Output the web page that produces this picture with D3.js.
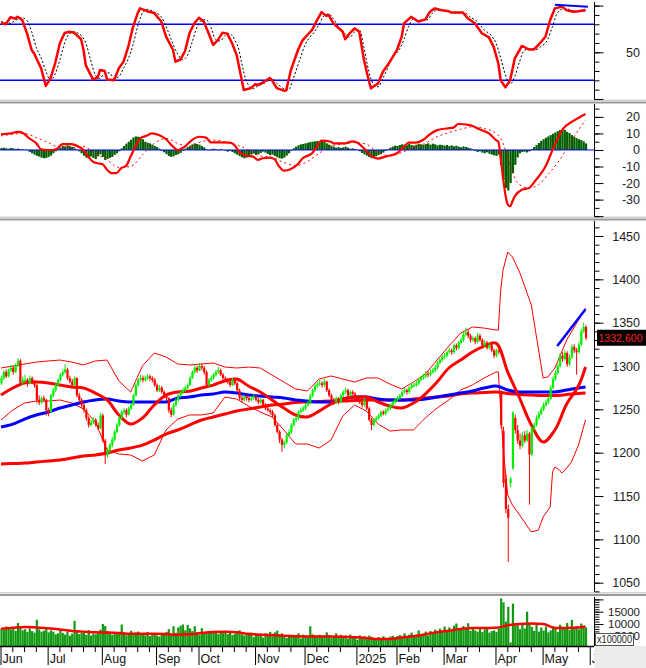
<!DOCTYPE html>
<html><head><meta charset="utf-8">
<script src="https://cdn.jsdelivr.net/npm/d3@7"></script>
<style>body{margin:0;background:#fff}svg{display:block;font-family:"Liberation Sans",Arial,sans-serif}</style>
</head><body><svg id="c" width="646" height="668"></svg>
<script>
// ---------------- DATA ----------------
const monthIdx = [0,20,43,66,84,108,129,151,168,188,210,230,250];
const monthLabels = ["Jun","Jul","Aug","Sep","Oct","Nov","Dec","2025","Feb","Mar","Apr","May","Jun"];

const opens = [1280,1286,1293,1288,1295,1298,1293,1301,1306,1281,1284,1284,1280,1286,1282,1278,1261,1258,1263,1261,
1249,1247,1266,1272,1278,1284,1290,1293,1296,1286,1282,1278,1286,1266,1261,1255,1249,1240,1232,1235,
1238,1232,1228,1243,1214,1197,1203,1209,1215,1224,1232,1240,1247,1249,1244,1251,1255,1266,1278,1284,
1286,1284,1286,1288,1286,1284,1278,1272,1275,1270,1266,1263,1249,1244,1255,1261,1266,1270,1272,1275,
1278,1286,1293,1298,1295,1300,1298,1293,1278,1284,1286,1290,1293,1295,1290,1286,1284,1282,1278,1284,
1280,1272,1263,1261,1265,1263,1261,1263,1265,1261,1258,1261,1255,1251,1249,1247,1243,1232,1224,1215,
1209,1212,1220,1224,1232,1238,1240,1247,1249,1251,1255,1258,1266,1272,1277,1279,1280,1278,1282,1272,
1266,1261,1258,1263,1258,1266,1270,1272,1266,1270,1268,1263,1261,1258,1255,1261,1251,1238,1232,1238,
1240,1243,1247,1245,1249,1251,1255,1258,1261,1263,1266,1270,1272,1270,1275,1278,1278,1280,1284,1286,
1288,1291,1290,1293,1295,1298,1304,1307,1311,1312,1316,1318,1316,1324,1321,1327,1330,1336,1339,1335,
1330,1332,1328,1335,1330,1324,1327,1321,1324,1318,1312,1318,1269,1225,1170,1135,1165,1182,1240,1226,
1214,1208,1220,1214,1222,1198,1228,1232,1240,1245,1250,1255,1258,1262,1275,1285,1292,1300,1312,1308,
1315,1302,1310,1322,1318,1316,1325,1340,1345];
const highs = [1289,1295,1296,1297,1301,1300,1303,1309,1308,1288,1290,1286,1289,1288,1284,1279,1266,1265,1266,1262,
1252,1268,1275,1280,1286,1292,1296,1302,1298,1289,1285,1288,1287,1269,1263,1257,1251,1242,1238,1241,
1240,1235,1246,1245,1216,1206,1211,1218,1226,1234,1242,1249,1252,1251,1253,1257,1268,1280,1286,1290,
1289,1289,1291,1290,1288,1286,1280,1278,1277,1272,1268,1264,1252,1257,1263,1268,1272,1275,1277,1280,
1288,1295,1301,1300,1303,1303,1300,1295,1286,1289,1292,1296,1299,1297,1292,1288,1286,1284,1286,1286,
1282,1274,1266,1267,1267,1265,1265,1268,1266,1263,1263,1262,1257,1253,1251,1249,1245,1234,1226,1217,
1214,1222,1227,1234,1240,1243,1249,1252,1254,1257,1260,1268,1274,1279,1282,1284,1282,1285,1283,1274,
1268,1263,1265,1264,1268,1272,1275,1274,1272,1272,1270,1265,1263,1260,1263,1262,1253,1240,1240,1242,
1245,1249,1249,1251,1253,1257,1260,1263,1265,1268,1272,1275,1274,1277,1280,1281,1283,1286,1289,1291,
1294,1294,1296,1298,1301,1306,1309,1313,1315,1318,1321,1320,1326,1326,1329,1333,1339,1344,1342,1337,
1335,1334,1338,1337,1332,1330,1329,1327,1326,1320,1320,1322,1272,1230,1175,1140,1172,1248,1244,1232,
1222,1224,1225,1226,1224,1230,1235,1243,1248,1253,1258,1261,1265,1278,1288,1295,1303,1315,1316,1318,
1317,1313,1325,1325,1321,1328,1343,1350,1347];
const lows = [1278,1284,1286,1287,1293,1290,1292,1299,1279,1278,1281,1276,1279,1279,1275,1257,1255,1256,1258,1243,
1242,1246,1264,1270,1276,1282,1288,1291,1284,1280,1276,1277,1264,1258,1252,1246,1237,1229,1230,1233,
1230,1226,1227,1212,1187,1194,1200,1206,1213,1222,1230,1238,1244,1241,1243,1249,1254,1265,1276,1282,
1281,1282,1284,1283,1281,1276,1270,1270,1268,1264,1260,1246,1241,1243,1253,1259,1264,1268,1270,1273,
1277,1285,1291,1292,1294,1295,1290,1276,1276,1282,1284,1288,1291,1288,1284,1282,1279,1276,1277,1278,
1270,1261,1258,1259,1260,1258,1259,1261,1259,1256,1256,1253,1249,1247,1244,1241,1230,1222,1211,1201,
1205,1210,1218,1222,1230,1235,1238,1245,1247,1249,1253,1256,1264,1270,1275,1277,1275,1276,1270,1264,
1259,1255,1256,1256,1257,1264,1268,1264,1265,1266,1261,1259,1256,1252,1253,1249,1236,1226,1230,1236,
1238,1241,1243,1243,1247,1249,1253,1256,1259,1261,1264,1268,1267,1268,1273,1275,1276,1278,1282,1284,
1286,1287,1288,1291,1293,1296,1302,1305,1308,1310,1314,1313,1314,1318,1319,1325,1328,1334,1332,1327,
1328,1325,1326,1328,1322,1322,1319,1319,1316,1309,1310,1314,1228,1160,1130,1074,1160,1180,1222,1210,
1204,1206,1211,1212,1140,1196,1225,1230,1238,1243,1248,1253,1256,1261,1273,1283,1290,1298,1305,1306,
1299,1300,1308,1315,1290,1314,1323,1338,1330];
const closes = [1286,1293,1288,1295,1298,1293,1301,1306,1281,1284,1284,1280,1286,1282,1278,1261,1258,1263,1261,1249,
1247,1266,1272,1278,1284,1290,1293,1296,1286,1282,1278,1286,1266,1261,1255,1249,1240,1232,1235,1238,
1232,1228,1243,1214,1197,1203,1209,1215,1224,1232,1240,1247,1249,1244,1251,1255,1266,1278,1284,1286,
1284,1286,1288,1286,1284,1278,1272,1275,1270,1266,1263,1249,1244,1255,1261,1266,1270,1272,1275,1278,
1286,1293,1298,1295,1300,1298,1293,1278,1284,1286,1290,1293,1295,1290,1286,1284,1282,1278,1284,1280,
1272,1263,1261,1265,1263,1261,1263,1265,1261,1258,1261,1255,1251,1249,1247,1243,1232,1224,1215,1209,
1212,1220,1224,1232,1238,1240,1247,1249,1251,1255,1258,1266,1272,1277,1279,1280,1278,1282,1272,1266,
1261,1258,1263,1258,1266,1270,1272,1266,1270,1268,1263,1261,1258,1255,1261,1251,1238,1232,1238,1240,
1243,1247,1245,1249,1251,1255,1258,1261,1263,1266,1270,1272,1270,1275,1278,1278,1280,1284,1286,1288,
1291,1290,1293,1295,1298,1304,1307,1311,1312,1316,1318,1316,1324,1321,1327,1330,1336,1339,1335,1330,
1332,1328,1335,1330,1324,1327,1321,1324,1318,1312,1318,1317,1232,1165,1135,1125,1170,1246,1226,1214,
1208,1220,1214,1222,1198,1228,1232,1240,1245,1250,1255,1258,1262,1275,1285,1292,1300,1312,1308,1315,
1302,1310,1322,1318,1316,1325,1340,1345,1332.6];
const lastPrice = "1332.600";

const volumes = [8200,7600,9000,8400,7800,8800,7200,10400,8600,7400,7900,6800,8200,7100,6500,11700,7800,6900,7300,8500,
6600,7400,6900,5800,6200,7600,6400,5700,7000,5200,6100,11300,7200,5900,6400,6800,5600,7500,5300,6100,
5800,6500,7700,10000,9200,7100,6200,5600,6400,5900,6300,9800,6600,5400,6100,7200,5800,6500,6900,5700,
6200,5400,6700,5100,5900,6300,5300,4900,6100,5600,6800,7900,5800,9100,6400,8600,9300,9800,7400,9600,
8200,7100,9100,6600,5600,8300,6100,6900,7000,6400,7200,6600,5900,6800,6300,7200,5900,6400,5500,6000,
6600,7400,5800,5300,6200,5700,6500,4700,5900,5500,6100,4500,6300,5600,6800,5100,6600,7300,5800,6200,
5200,4300,5600,4800,5300,4900,6200,4100,5700,5000,4600,9100,5800,5300,4900,5600,4700,5200,6600,5500,
4400,5100,6200,4300,5600,4900,5300,4000,5700,4600,5100,3600,5400,4500,5000,3900,5300,4800,4200,3700,
4700,4100,5000,4400,3600,4900,5200,4600,5100,5500,4800,6200,5000,5700,6500,4900,5800,7400,5300,6000,
6900,5400,7200,6300,7700,6600,8100,7000,9000,7300,8600,7500,9300,10200,8400,7600,9200,8100,10300,7200,
8800,7400,6900,8300,6700,7800,8500,6500,7100,7400,6800,8200,20400,18800,11000,17000,2500,18300,10400,9500,
7900,9600,8200,15000,10400,8800,7200,10000,6900,8600,7300,9000,6600,7400,9200,8300,6700,9700,8000,8600,
10400,7600,11700,8300,9100,7800,10200,9300,8600];

const volMA = [[0,8100],[5,8500],[10,8800],[15,8600],[20,8300],[25,7800],[30,7200],[35,6900],[40,6600],[45,6500],
[50,6300],[55,6000],[60,6000],[65,6000],[70,5900],[75,5600],[80,5800],[85,6300],[90,6700],[95,6800],
[100,6600],[105,6000],[110,5600],[115,5500],[120,5200],[125,5000],[130,4900],[135,4900],[140,4900],[145,4800],
[150,4600],[155,4300],[160,3900],[165,3900],[170,4500],[175,5000],[180,5800],[185,6700],[190,7300],[195,8000],
[200,8400],[205,8400],[210,8500],[215,9500],[220,10000],[225,10200],[230,10000],[235,8400],[240,8400],[245,8600],[248,9000]];

const ma20 = [[0,1266.5],[5,1274.6],[10,1280.4],[15,1281.5],[20,1280.4],[25,1278.1],[30,1275.8],[35,1274.6],[40,1268.8],[45,1260.8],
[50,1243.5],[55,1233],[60,1240],[65,1255],[70,1266.5],[75,1270],[80,1271],[85,1274.6],[90,1278],[95,1282.7],
[100,1285],[105,1276.9],[110,1270],[115,1260.8],[120,1251.5],[125,1243.5],[130,1241.2],[135,1248],[140,1256.2],[145,1262],
[150,1264.2],[155,1264.2],[160,1258.5],[165,1253.8],[170,1251.5],[175,1257.3],[180,1267.7],[185,1281.5],[190,1297.7],[195,1306.9],
[200,1316.2],[205,1323],[210,1326.5],[215,1293],[220,1263.1],[225,1232],[230,1212.3],[235,1226.2],[240,1256.2],[245,1277],[248,1298.8]];

const ma50 = [[0,1229.6],[5,1233],[10,1238.8],[15,1243.5],[20,1246.9],[25,1251.5],[30,1255],[35,1258.5],[40,1260.8],[45,1261.9],
[50,1259.6],[55,1258.5],[60,1258.5],[65,1258.5],[70,1258.5],[75,1263.1],[80,1264.2],[85,1266.5],[90,1267.7],[95,1270],
[100,1268.8],[105,1266.5],[110,1265.4],[115,1264.2],[120,1263.1],[125,1260.8],[130,1259.6],[135,1258.5],[140,1258.5],[145,1261.9],
[150,1264.2],[155,1264.2],[160,1261.9],[165,1260.8],[170,1260.8],[175,1260.8],[180,1261.9],[185,1264.2],[190,1266.5],[195,1268.8],
[200,1271.2],[205,1274.6],[210,1276.9],[215,1272.3],[220,1270],[225,1270],[230,1270],[235,1270],[240,1272.3],[245,1274.6],[248,1275.8]];

const ma200 = [[0,1186.9],[5,1187.5],[10,1188],[15,1189.2],[20,1190.4],[25,1191.5],[30,1193.8],[35,1196.2],[40,1197.3],[45,1199.6],
[50,1203.1],[55,1205.4],[60,1208.8],[65,1214.6],[70,1221.5],[75,1226.2],[80,1231.9],[85,1237.7],[90,1241.2],[95,1244.6],
[100,1248.1],[105,1250.4],[110,1252.7],[115,1255],[120,1256.2],[125,1257.9],[130,1258.5],[135,1259],[140,1259.6],[145,1259.6],
[150,1260.2],[155,1260.8],[160,1260.8],[165,1260.8],[170,1260.8],[175,1261.9],[180,1263.1],[185,1264.2],[190,1265.4],[195,1267.7],
[200,1268.8],[205,1269.4],[210,1270],[215,1268.3],[220,1267.1],[225,1266.5],[230,1266],[235,1266],[240,1267.1],[245,1268.3],[248,1268.8]];

const bbUpper = [[0,1297.7],[5,1300],[10,1302.3],[15,1304.6],[20,1305.8],[25,1306.9],[30,1304.6],[35,1301.2],[40,1305.8],[45,1306.9],
[50,1282.7],[55,1270],[60,1300],[65,1315],[70,1310.4],[75,1302.3],[80,1301.2],[85,1302.3],[90,1303.5],[95,1298.8],
[100,1297.7],[105,1298.8],[110,1297.7],[115,1289.6],[120,1281.5],[125,1273.5],[130,1271.2],[135,1285],[140,1288.5],[145,1285],
[150,1281.5],[155,1286.2],[160,1286.2],[165,1279.2],[170,1273.5],[175,1281.5],[180,1290.8],[185,1306.9],[190,1323],[195,1338],
[200,1345],[205,1343.8],[210,1341.5],[211,1341.5],[212,1387.7],[213,1410.8],[215,1431.5],[217,1425.8],[220,1408.5],[225,1370.4],
[230,1286.2],[232,1287.3],[235,1297.7],[240,1330],[245,1353],[248,1366.9]];

const bbLower = [[0,1237.7],[5,1249.2],[10,1257.3],[15,1259.6],[20,1259.6],[25,1260.8],[30,1257.3],[35,1250.4],[40,1235.4],[45,1203.1],
[50,1198.5],[55,1197.3],[60,1190.4],[65,1197.3],[70,1226.2],[75,1238.8],[80,1243.5],[85,1243.5],[90,1245.8],[95,1264.2],
[100,1261.9],[105,1253.8],[110,1246.9],[115,1241.2],[120,1226.2],[125,1210],[130,1210],[135,1205.4],[140,1214.6],[145,1242.3],
[150,1255],[155,1248.1],[160,1233.1],[165,1225],[170,1226.2],[175,1226.2],[180,1240],[185,1251.5],[190,1260.8],[195,1272.3],
[200,1278.1],[205,1286.2],[210,1293.1],[211,1293.1],[213,1206.5],[215,1151.2],[217,1139.6],[220,1128.1],[225,1108.5],[228,1110.8],
[230,1125.8],[233,1137.3],[234,1177.7],[235,1183.5],[237,1180],[238,1176.6],[240,1182.3],[242,1189.2],[245,1208.8],[248,1237.7]];

const priceTrend = [[236,1323],[248,1365.4]];

const stochK = [[0,81.7],[2,80],[4,87.5],[6,86],[7,88],[9,84.6],[11,70.6],[13,52.5],[14,49],[17,33],[19,14],[21,22],[23,38.5],[25,60],[27,70.6],[29,72],[31,71],[34,64],[35,52.5],[36,36],[39,21],[41,23],[42,31],[44,30],[45,21],[48,20],[50,33],[52,40],[54,56],[56,77],[58,92],[59,97],[62,94],[65,92],[68,83],[70,67],[73,52.5],[74,40],[76,42],[78,50.6],[80,70.6],[82,81],[84,87],[86,83],[88,71],[90,58],[92,63],[94,71],[96,70],[98,60],[100,47],[101,34.6],[103,9.6],[106,11.6],[108,16],[109,15],[111,17.4],[114,22.5],[115,20],[117,11.6],[120,8.9],[121,9],[123,31],[126,52.5],[128,63],[130,68.5],[132,74],[134,84],[136,93],[138,89],[139,90],[141,81],[145,72],[146,64],[148,70.6],[150,75.7],[152,72],[154,41.7],[156,20],[157,11.4],[160,16.8],[162,29],[165,40],[168,52.5],[170,66.7],[171,81],[174,88],[177,83],[180,85],[182,93.5],[184,97],[187,95],[190,94],[191,92.5],[196,92.5],[198,86.4],[201,81],[204,70.4],[207,66],[209,56],[211,38],[212,20],[214,12.5],[216,20],[218,43.6],[221,56.8],[224,53],[226,53],[228,57.8],[231,66.7],[233,84.6],[235,97],[238,98.9],[240,95],[243,93.5],[245,94],[248,95.3]];
const stochD = [[0,83],[4,81],[6,84],[9,87],[11,84],[13,72],[15,55],[17,44],[19,30],[21,20],[23,27],[25,42],[27,60],[29,70],[31,72],[33,70],[36,60],[38,42],[40,26],[42,22],[44,28],[46,28],[48,22],[50,24],[52,33],[54,43],[56,58],[58,78],[60,92],[62,96],[65,93],[68,88],[70,78],[72,65],[75,48],[77,42],[79,46],[81,60],[83,76],[85,84],[87,85],[89,77],[91,64],[93,62],[95,68],[97,70],[99,64],[101,52],[102,40],[104,20],[107,11],[109,14],[111,16],[113,19],[115,22],[117,17],[120,11],[122,10],[124,22],[127,44],[129,58],[131,66],[133,72],[135,80],[137,89],[139,91],[141,86],[143,78],[146,70],[148,66],[150,72],[152,74],[154,55],[156,30],[158,16],[160,13],[162,22],[164,33],[166,44],[169,53],[171,64],[173,78],[175,86],[178,84],[181,85],[183,92],[185,95],[188,95],[191,93],[193,92],[197,92],[199,88],[202,83],[205,74],[208,68],[210,60],[212,44],[214,26],[216,16],[218,24],[220,40],[222,52],[225,54],[227,53],[229,56],[232,64],[234,78],[236,92],[239,97],[241,96],[244,94],[246,94],[248,94.5]];
const stochTrend = [[235,101],[249,98.8]];
const stochLevels = [80,20];

const macd = [[0,9.5],[4,10],[7,11],[9,10.5],[12,7],[15,4],[17,0.4],[20,0],[22,0],[24,1],[26,3.6],[30,3.6],[33,2],[35,0],[37,-4],[39,-7],[41,-8],[43,-8.5],[45,-12],[47,-14],[49,-14],[51,-11],[53,-9.7],[55,-4],[57,2],[59,7],[62,8.7],[64,10],[67,9],[70,6.5],[73,2],[75,0],[78,2],[81,6],[84,8],[87,7.5],[89,4.6],[93,4.6],[97,4.4],[99,3],[101,-1],[104,-3.4],[107,-4],[109,-6],[111,-5],[114,-4.6],[116,-5.5],[118,-10],[120,-12.5],[123,-11.5],[126,-8.5],[128,-5],[132,-2],[134,2],[136,5.6],[140,5],[141,4],[146,4],[149,5.2],[151,4.5],[154,1],[157,-3.6],[160,-5.2],[163,-4],[168,-2],[171,2],[173,4.4],[176,4.5],[179,6],[182,9.5],[185,12],[189,13],[192,13.5],[194,15.7],[199,15],[203,12.5],[207,10],[210,6],[211,5],[212,-5],[213,-17],[214,-27],[215,-33],[216,-34],[217,-31],[218,-28],[221,-24],[224,-23],[227,-18],[231,-10],[234,0],[238,12],[243,17.7],[247,21],[248,21.8]];
const macdSignal = [[0,8.5],[5,9.5],[10,10],[15,7.5],[20,4.5],[25,1.5],[30,1.5],[35,2],[40,-2],[45,-6],[50,-10.5],[55,-10],[60,-3],[65,4],[70,7],[75,4],[80,2],[85,5],[90,6],[95,5],[100,3],[105,0],[110,-3.5],[115,-4.5],[120,-7.5],[125,-9.5],[130,-7],[135,-2],[140,2.5],[145,3.5],[150,4.5],[155,3.5],[160,-1.5],[165,-3.5],[170,-1.5],[175,1.5],[180,4],[185,8],[190,10.5],[195,12.5],[200,14],[205,13],[210,10],[212,7],[214,0],[216,-9],[218,-17],[220,-21],[224,-23],[228,-21],[232,-15],[236,-8],[238,-4],[240,1],[244,10],[248,18]];
const macdHist = [1.2,1.4,1.0,0.8,1.2,1.0,0.6,0.8,0.5,0.3,0.2,-0.3,-1.2,-2.0,-2.8,-3.5,-4.0,-4.6,-5.0,-4.8,
-4.2,-3.4,-2.0,-0.8,0.5,1.5,2.5,2.2,2.8,2.4,1.8,1.0,0.3,-0.8,-2.0,-3.5,-4.6,-5.2,-4.0,-4.8,
-5.5,-3.8,-2.6,-4.2,-6.0,-5.4,-4.8,-4.2,-3.0,-2.0,-0.8,1.0,2.4,3.8,5.0,6.2,7.5,8.2,8.0,7.6,
6.5,5.0,4.4,4.0,3.2,2.5,1.8,0.8,-0.5,-1.4,-2.5,-3.6,-4.2,-3.8,-3.0,-2.6,-1.8,-0.6,0.8,1.8,
2.6,3.4,4.0,3.6,3.2,2.4,1.6,0.4,-0.2,0.5,0.8,0.4,-0.3,0.6,0.2,-0.4,-1.0,-0.6,-1.2,-2.0,
-2.8,-3.6,-4.4,-5.0,-4.6,-3.8,-2.8,-2.2,-3.0,-2.6,-1.8,-1.0,-1.6,-2.4,-3.2,-2.8,-3.6,-4.4,-5.0,-5.2,
-4.6,-3.4,-2.0,-0.5,1.0,2.0,2.8,3.4,3.6,4.0,4.4,4.8,5.0,5.2,5.4,5.2,5.6,5.0,4.0,3.2,
2.6,2.0,1.4,1.8,1.2,1.6,2.0,1.4,0.8,1.0,0.6,0.2,-0.8,-1.8,-2.6,-3.4,-4.2,-5.0,-4.6,-3.8,
-3.0,-2.4,-1.6,-0.6,0.4,1.4,2.0,2.6,2.4,3.0,3.4,3.2,2.8,3.6,3.0,2.6,3.2,3.8,3.4,3.0,
3.6,4.0,3.2,3.8,3.4,2.8,3.2,3.0,2.6,3.0,2.4,2.8,2.2,2.6,2.0,1.6,2.2,1.8,1.4,1.0,
0.4,-0.6,-1.2,-0.8,-1.6,-2.0,-1.4,-2.2,-2.8,-3.2,-3.6,-2.8,-9.0,-18.0,-23.0,-24.5,-20.0,-14.0,-9.0,-4.5,
-2.0,-1.2,-1.0,-1.5,-0.8,0.6,1.8,3.0,4.2,5.5,6.5,7.4,8.2,9.0,9.8,10.6,11.4,12.0,12.6,12.2,
11.0,10.2,9.0,8.0,7.2,6.5,6.0,5.2,4.0];

// ---------------- DRAW ----------------
const svg = d3.select('#c');
const W = 646, AX = 594;
const x = d3.scaleLinear().domain([0, 250]).range([1, 590.25]);
const yS = d3.scaleLinear().domain([0, 100]).range([99, 5.6]);
const yM = d3.scaleLinear().domain([-30, 20]).range([199.6, 116.9]);
const yP = d3.scaleLinear().domain([1050, 1450]).range([582.7, 236]);
const yV = d3.scaleLinear().domain([0, 15000]).range([648.6, 611.7]);

const panels = {s:[0,100], m:[104,217], p:[221,592], v:[596,646]};
const defs = svg.append('defs');
Object.entries(panels).forEach(([k,[t,b]]) => {
  defs.append('clipPath').attr('id','clip-'+k).append('rect')
    .attr('x',0).attr('y',t).attr('width',AX).attr('height',b-t);
});
const gS = svg.append('g').attr('clip-path','url(#clip-s)');
const gM = svg.append('g').attr('clip-path','url(#clip-m)');
const gP = svg.append('g').attr('clip-path','url(#clip-p)');
const gV = svg.append('g').attr('clip-path','url(#clip-v)');

const lineOf = (ys, curve) => d3.line().x(d => x(d[0])).y(d => ys(d[1])).curve(curve || d3.curveMonotoneX);

// ---- Stochastic ----
stochLevels.forEach(v => gS.append('line').attr('x1',0).attr('x2',AX)
  .attr('y1',yS(v)).attr('y2',yS(v)).attr('stroke','#0000ff').attr('stroke-width',1.5));
gS.append('path').datum(stochD).attr('d', lineOf(yS)).attr('fill','none')
  .attr('stroke','#000').attr('stroke-width',1).attr('stroke-dasharray','2,2');
gS.append('path').datum(stochK).attr('d', lineOf(yS, d3.curveLinear)).attr('fill','none')
  .attr('stroke','#ff0000').attr('stroke-width',2.5).attr('stroke-linejoin','round');
gS.append('path').datum(stochTrend).attr('d', lineOf(yS, d3.curveLinear)).attr('fill','none')
  .attr('stroke','#0000ff').attr('stroke-width',2);

// ---- MACD ----
gM.selectAll('rect.h').data(macdHist).enter().append('rect')
  .attr('x',(d,i)=>x(i)-0.6).attr('width',2.2)
  .attr('y',d=>Math.min(yM(0),yM(d))).attr('height',d=>Math.abs(yM(d)-yM(0)))
  .attr('fill','#005e00');
gM.append('line').attr('x1',0).attr('x2',AX).attr('y1',yM(0)).attr('y2',yM(0))
  .attr('stroke','#0000ff').attr('stroke-width',1);
gM.append('path').datum(macdSignal).attr('d', lineOf(yM)).attr('fill','none')
  .attr('stroke','#ff0000').attr('stroke-width',1).attr('stroke-dasharray','2,3');
gM.append('path').datum(macd).attr('d', lineOf(yM)).attr('fill','none')
  .attr('stroke','#ff0000').attr('stroke-width',2.2);

// ---- Price ----
[bbUpper, bbLower].forEach(s => gP.append('path').datum(s).attr('d', lineOf(yP, d3.curveLinear))
  .attr('fill','none').attr('stroke','#ff0000').attr('stroke-width',1));
gP.append('path').datum(ma200).attr('d', lineOf(yP)).attr('fill','none').attr('stroke','#ff0000').attr('stroke-width',3);
gP.append('path').datum(ma50).attr('d', lineOf(yP)).attr('fill','none').attr('stroke','#0000ff').attr('stroke-width',3);
gP.append('path').datum(ma20).attr('d', lineOf(yP, d3.curveCatmullRom)).attr('fill','none').attr('stroke','#ff0000').attr('stroke-width',3);

const candles = closes.map((c,i)=>({i, o:opens[i], h:highs[i], l:lows[i], c}));
const cg = gP.selectAll('g.c').data(candles).enter().append('g');
cg.append('line').attr('x1',d=>x(d.i)+0.5).attr('x2',d=>x(d.i)+0.5)
  .attr('y1',d=>yP(d.h)).attr('y2',d=>yP(d.l))
  .attr('stroke',d=>d.c>=d.o?'#00ee00':'#ff0000').attr('stroke-width',1);
cg.append('rect').attr('x',d=>x(d.i)-0.6).attr('width',2.2)
  .attr('y',d=>yP(Math.max(d.o,d.c))).attr('height',d=>Math.max(1,Math.abs(yP(d.o)-yP(d.c))))
  .attr('fill',d=>d.c>=d.o?'#00ee00':'#ff0000');
gP.append('path').datum(priceTrend).attr('d', lineOf(yP, d3.curveLinear)).attr('fill','none')
  .attr('stroke','#0000ff').attr('stroke-width',2.5);

// ---- Volume ----
gV.selectAll('rect.v').data(volumes).enter().append('rect')
  .attr('x',(d,i)=>x(i)-0.6).attr('width',2.2)
  .attr('y',d=>yV(d)).attr('height',d=>646-yV(d)).attr('fill','#119911');
gV.append('path').datum(volMA).attr('d', lineOf(yV)).attr('fill','none').attr('stroke','#ff0000').attr('stroke-width',2.5);

// ---- separators ----
[[99.5,101.5],[216.5,218.5],[592,594]].forEach(([a,b]) => {
  svg.append('rect').attr('x',0).attr('y',a).attr('width',W).attr('height',1.5).attr('fill','#d2d2d2');
  svg.append('rect').attr('x',0).attr('y',b).attr('width',W).attr('height',2).attr('fill','#9a9a9a');
});

// ---- right axes ----
function rightAxis(scale, top, bottom, minorVals, majorVals, labelVals, fs) {
  const g = svg.append('g');
  g.append('line').attr('x1',AX+0.5).attr('x2',AX+0.5).attr('y1',top).attr('y2',bottom).attr('stroke','#000');
  const inR = v => scale(v) >= top && scale(v) <= bottom;
  const mn = g.append('g').attr('transform',`translate(${AX+0.5},0)`)
    .call(d3.axisRight(scale).tickValues(minorVals.filter(inR)).tickSize(5).tickFormat(''));
  const mj = g.append('g').attr('transform',`translate(${AX+0.5},0)`)
    .call(d3.axisRight(scale).tickValues(majorVals.filter(inR)).tickSize(9).tickFormat(''));
  [mn,mj].forEach(a => { a.select('.domain').remove(); a.selectAll('line').attr('stroke','#000'); });
  g.selectAll('text.lbl').data(labelVals.filter(inR)).enter().append('text')
    .attr('x',640).attr('y',d=>scale(d)+(fs||12.5)*0.36).attr('text-anchor','end')
    .attr('font-size',fs||12.5).attr('fill','#222').text(d=>d);
  return g;
}
rightAxis(yS, 2, 99.5, d3.range(0,101,10), [0,50,100], [50]);
rightAxis(yM, 104, 216.5, d3.range(-40,26,5), d3.range(-40,21,10), [20,10,0,-10,-20,-30]);
rightAxis(yP, 221, 592, d3.range(1040,1461,10), d3.range(1050,1451,50), d3.range(1050,1451,50));
rightAxis(yV, 597, 646, d3.range(0,22000,1000), [5000,10000,15000,20000], [5000,10000,15000], 11.5);

// last price tag
svg.append('rect').attr('x',597).attr('y',yP(1332.6)-8).attr('width',49).attr('height',16).attr('fill','#000');
svg.append('text').attr('x',598.5).attr('y',yP(1332.6)+4.2).attr('font-size',11.5)
  .attr('textLength',44).attr('lengthAdjust','spacingAndGlyphs').attr('fill','#ff2020').text(lastPrice);

// ---- bottom axis ----
svg.append('line').attr('x1',0).attr('x2',AX).attr('y1',646.5).attr('y2',646.5).attr('stroke','#000').attr('stroke-width',1.5);
const minorTicks = [];
for (let k=0;k<monthIdx.length-1;k++) for (let j=monthIdx[k]+5;j<monthIdx[k+1]-2;j+=5) minorTicks.push(j);
svg.selectAll('line.mt').data(minorTicks).enter().append('line')
  .attr('x1',d=>x(d)).attr('x2',d=>x(d)).attr('y1',646).attr('y2',652).attr('stroke','#000');
svg.selectAll('line.Mt').data(monthIdx).enter().append('line')
  .attr('x1',d=>x(d)).attr('x2',d=>x(d)).attr('y1',646).attr('y2',665).attr('stroke','#000');
svg.selectAll('text.m').data(monthLabels).enter().append('text')
  .attr('x',(d,i)=>x(monthIdx[i])+1.5).attr('y',663).attr('font-size',12.5).attr('fill','#111').text(d=>d);

// bottom-right gray box & unit label
svg.append('rect').attr('x',AX+0.5).attr('y',646).attr('width',W-AX).attr('height',22).attr('fill','#ececec');
svg.append('rect').attr('x',595.5).attr('y',633.5).attr('width',38).attr('height',12).attr('fill','#fff').attr('stroke','#555');
svg.append('text').attr('x',597).attr('y',643).attr('font-size',10).attr('textLength',35)
  .attr('lengthAdjust','spacingAndGlyphs').attr('fill','#222').text('x100000');
</script></body></html>
